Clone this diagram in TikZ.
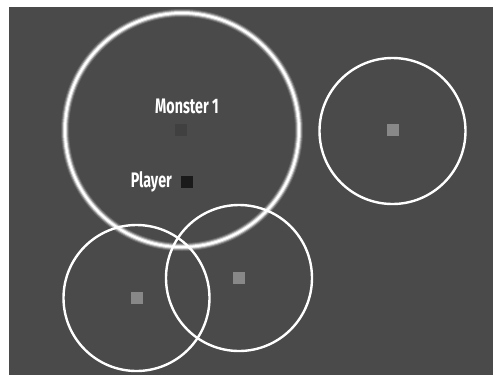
\documentclass[tikz,border=0pt]{standalone}
\usepackage{fontspec}
\setmainfont{Fira Sans}
\begin{document}
\begin{tikzpicture}[x=1pt,y=-1pt,
  ring/.style={draw=white,line width=2.4pt},
  marker/.style={minimum size=12pt,inner sep=0pt,outer sep=0pt},
  lbl/.style={text=white,font=\bfseries\fontsize{21}{21}\selectfont,inner sep=0pt,xscale=0.68}]
\definecolor{bg}{HTML}{4A4A4A}
\definecolor{mk}{HTML}{888888}
\definecolor{mon}{HTML}{404040}
\definecolor{pl}{HTML}{1A1A1A}
\useasboundingbox (0,0) rectangle (493,376);
\fill[white] (0,0) rectangle (493,376);
\fill[bg] (9,7) rectangle (493,375);
% big glowing circle
\coordinate (c0) at (182,130);
\draw[white,opacity=0.15,line width=8pt] (c0) circle (117);
\draw[white,opacity=0.3,line width=6pt] (c0) circle (117);
\draw[white,opacity=0.6,line width=4pt] (c0) circle (117);
\draw[white,line width=2pt] (c0) circle (117);
% other rings
\coordinate (c1) at (392.5,131);
\coordinate (c2) at (136.5,298);
\coordinate (c3) at (239,278);
\draw[ring] (c1) circle (73);
\draw[ring] (c2) circle (73);
\draw[ring] (c3) circle (73);
% markers
\node[marker,fill=mk] (m1) at (392.5,130) {};
\node[marker,fill=mk] (m2) at (136.5,298) {};
\node[marker,fill=mk] (m3) at (239,278) {};
\node[marker,fill=mon] (mon) at (181,130) {};
\node[marker,fill=pl] (pl) at (187,182) {};
\node[lbl] (tmon) at (187,106) {Monster 1};
\node[lbl,anchor=east] (tpl) at (172,182) {Player};
\end{tikzpicture}
\end{document}
